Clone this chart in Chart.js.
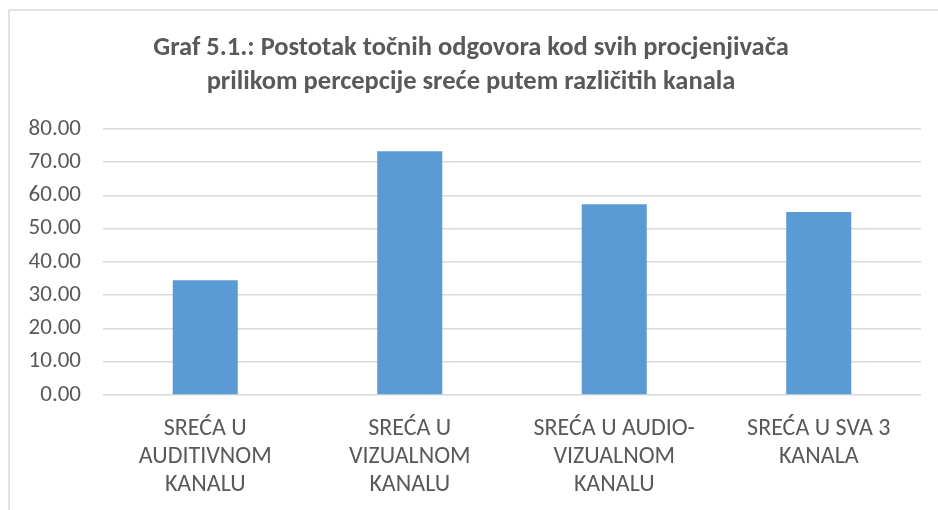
<!DOCTYPE html>
<html>
<head>
<meta charset="utf-8">
<script src="https://cdn.jsdelivr.net/npm/chart.js@4"></script>
<style>
  html, body { margin: 0; padding: 0; background: #fff; }
  #wrap { position: relative; width: 938px; height: 510px; }
</style>
</head>
<body>
<div id="wrap"><canvas id="myChart"></canvas></div>
<script>
const titleLines = [
    'Graf 5.1.: Postotak točnih odgovora kod svih procjenjivača',
    'prilikom percepcije sreće putem različitih kanala'
];
const categories = [
    ['SREĆA U', 'AUDITIVNOM', 'KANALU'],
    ['SREĆA U', 'VIZUALNOM', 'KANALU'],
    ['SREĆA U AUDIO-', 'VIZUALNOM', 'KANALU'],
    ['SREĆA U SVA 3', 'KANALA']
];
const percentCorrect = [34.5, 73.3, 57.3, 55.0];

const textColor = '#595959';
const gridColor = '#d9d9d9';
const fontFamily = 'Carlito, Calibri, "Open Sans", sans-serif';

// frame of the chart (only top and left edges show in the picture)
const framePlugin = {
    id: 'frame',
    beforeDraw(chart) {
        const ctx = chart.ctx;
        ctx.save();
        ctx.fillStyle = '#fff';
        ctx.fillRect(0, 0, chart.width, chart.height);
        ctx.strokeStyle = gridColor;
        ctx.lineWidth = 1.5;
        ctx.beginPath();
        ctx.moveTo(9, chart.height);
        ctx.lineTo(9, 10);
        ctx.lineTo(chart.width, 10);
        ctx.stroke();
        ctx.restore();
    }
};

const ctx = document.getElementById('myChart');

new Chart(ctx, {
    type: 'bar',
    data: {
        labels: categories,
        datasets: [{
            data: percentCorrect,
            backgroundColor: '#5b9bd5',
            categoryPercentage: 1,
            barPercentage: 0.318
        }]
    },
    options: {
        responsive: true,
        maintainAspectRatio: false,
        animation: false,
        layout: {
            padding: { top: 10, left: 21, right: 17, bottom: 0 }
        },
        plugins: {
            legend: { display: false },
            tooltip: { enabled: false },
            title: {
                display: true,
                text: titleLines,
                color: textColor,
                font: { family: fontFamily, size: 26.5, weight: 'bold', lineHeight: 1.28 },
                padding: { top: 21, bottom: 30 }
            }
        },
        scales: {
            x: {
                afterFit: (scale) => { scale.height = 115; },
                grid: { display: false, drawTicks: false },
                border: { display: false },
                ticks: {
                    color: textColor,
                    padding: 20,
                    maxRotation: 0,
                    autoSkip: false,
                    font: { family: fontFamily, size: 24, lineHeight: 1.16 }
                }
            },
            y: {
                min: 0,
                max: 80,
                afterFit: (scale) => { scale.width = 82; },
                grid: { color: gridColor, lineWidth: 1.5, drawTicks: false },
                border: { display: false },
                ticks: {
                    stepSize: 10,
                    color: textColor,
                    padding: 22,
                    font: { family: fontFamily, size: 23 },
                    callback: (v) => Number(v).toFixed(2)
                }
            }
        }
    },
    plugins: [framePlugin]
});
</script>
</body>
</html>
